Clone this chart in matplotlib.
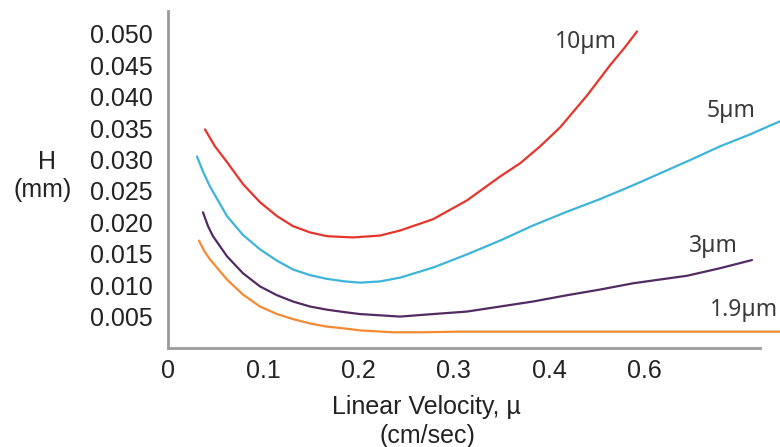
import matplotlib
matplotlib.use("Agg")
import matplotlib.pyplot as plt

plt.rcParams['font.family'] = ['Liberation Sans', 'DejaVu Sans']

# Plate height H (mm) against linear velocity (cm/sec) for several particle sizes
x_10um = [0.0388, 0.0493, 0.0619, 0.0787, 0.0966, 0.1144, 0.1312, 0.1491, 0.1669, 0.1942,
          0.2226, 0.2436, 0.2782, 0.3139, 0.3486, 0.3696, 0.3906, 0.4115, 0.4399, 0.4640,
          0.4798, 0.4924]
h_10um = [0.0348, 0.0321, 0.0296, 0.0261, 0.0232, 0.0210, 0.0194, 0.0184, 0.0178, 0.0176,
          0.0179, 0.0187, 0.0205, 0.0235, 0.0273, 0.0294, 0.0321, 0.0351, 0.0402, 0.0450,
          0.0479, 0.0504]

x_5um = [0.0304, 0.0367, 0.0441, 0.0619, 0.0787, 0.0966, 0.1144, 0.1312, 0.1491, 0.1669,
         0.1858, 0.2016, 0.2226, 0.2436, 0.2782, 0.3139, 0.3486, 0.3832, 0.4189, 0.4535,
         0.4882, 0.5165, 0.5449, 0.5795, 0.6110, 0.6425]
h_5um = [0.0305, 0.0281, 0.0257, 0.0210, 0.0180, 0.0157, 0.0139, 0.0125, 0.0116, 0.0110,
         0.0106, 0.0104, 0.0106, 0.0112, 0.0128, 0.0149, 0.0171, 0.0195, 0.0217, 0.0237,
         0.0259, 0.0278, 0.0297, 0.0321, 0.0340, 0.0361]

x_3um = [0.0367, 0.0420, 0.0472, 0.0619, 0.0787, 0.0966, 0.1144, 0.1312, 0.1491, 0.1669,
         0.1858, 0.2016, 0.2226, 0.2436, 0.2782, 0.3139, 0.3486, 0.3832, 0.4189, 0.4535,
         0.4882, 0.5165, 0.5449, 0.5795, 0.6131]
h_3um = [0.0216, 0.0194, 0.0178, 0.0146, 0.0119, 0.0098, 0.0084, 0.0074, 0.0066, 0.0061,
         0.0057, 0.0054, 0.0052, 0.0050, 0.0054, 0.0058, 0.0066, 0.0074, 0.0084, 0.0093,
         0.0103, 0.0109, 0.0115, 0.0127, 0.0140]

x_19um = [0.0325, 0.0378, 0.0441, 0.0619, 0.0787, 0.0966, 0.1144, 0.1312, 0.1491, 0.1669,
          0.1858, 0.2016, 0.2362, 0.2646, 0.3066, 0.3486, 0.4535, 0.5585, 0.6425]
h_19um = [0.0171, 0.0155, 0.0141, 0.0109, 0.0085, 0.0066, 0.0054, 0.0046, 0.0039, 0.0034,
          0.0031, 0.0028, 0.0025, 0.0025, 0.0026, 0.0026, 0.0026, 0.0026, 0.0026]

series_labels = ['10µm', '5µm', '3µm', '1.9µm']
series_colors = ['#e6352b', '#3db4da', '#532b62', '#f68a33']
label_pos = [(0.4388, 0.0487), (0.5911, 0.0377), (0.5722, 0.0162), (0.6047, 0.0061)]

x_ticks = [0.0, 0.1, 0.2, 0.3, 0.4, 0.5]
x_tick_labels = ['0', '0.1', '0.2', '0.3', '0.4', '0.6']
y_ticks = [0.005, 0.010, 0.015, 0.020, 0.025, 0.030, 0.035, 0.040, 0.045, 0.050]
y_tick_labels = ['%.3f' % v for v in y_ticks]

fig = plt.figure(figsize=(7.8, 4.47), dpi=100)
ax = fig.add_axes([0.2154, 0.2215, 0.7846, 0.754])

curves = [(x_10um, h_10um), (x_5um, h_5um), (x_3um, h_3um), (x_19um, h_19um)]
for (xs, hs), c in zip(curves, series_colors):
    ax.plot(xs, hs, color=c, lw=1.6, solid_capstyle='round', clip_on=False)

for lab, (lx, ly) in zip(series_labels, label_pos):
    ax.text(lx, ly, lab, ha='center', va='center', fontsize=16.5, color='#3a3a3a',
            family=['Noto Sans', 'DejaVu Sans'])

ax.set_xlim(0, 0.6425)
ax.set_ylim(0, 0.05366)
ax.set_xticks(x_ticks)
ax.set_xticklabels(x_tick_labels)
ax.set_yticks(y_ticks)
ax.set_yticklabels(y_tick_labels)
ax.tick_params(axis='both', length=0, labelsize=18, labelcolor='#222222')
ax.tick_params(axis='y', pad=11)
ax.tick_params(axis='x', pad=8)

for s in ['top', 'right']:
    ax.spines[s].set_visible(False)
for s in ['left', 'bottom']:
    ax.spines[s].set_color('#9a9a9a')
    ax.spines[s].set_linewidth(2)
ax.spines['bottom'].set_bounds(0, 0.6215)

fig.text(47 / 780, 1 - 162 / 447, 'H', ha='center', va='center', fontsize=18, color='#222222')
fig.text(43 / 780, 1 - 190 / 447, '(mm)', ha='center', va='center', fontsize=18, color='#222222')
fig.text(426 / 780, 1 - 407 / 447, 'Linear Velocity, µ', ha='center', va='center',
         fontsize=18, color='#222222')
fig.text(427 / 780, 1 - 436 / 447, '(cm/sec)', ha='center', va='center',
         fontsize=18, color='#222222')

fig.savefig('out.png', dpi=100)
